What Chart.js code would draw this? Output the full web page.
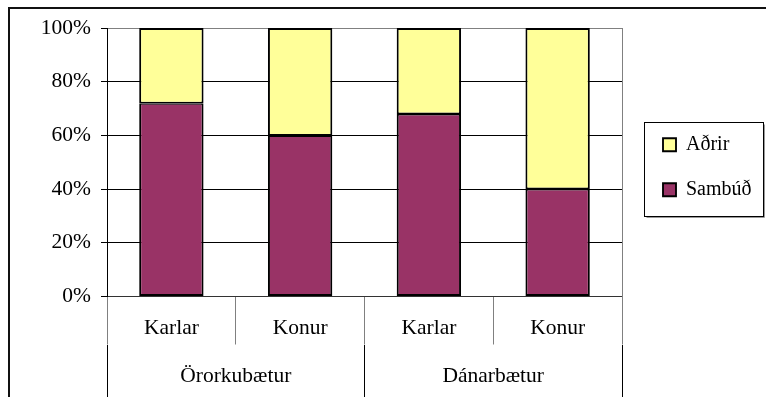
<!DOCTYPE html>
<html>
<head>
<meta charset="utf-8">
<script src="https://cdn.jsdelivr.net/npm/chart.js@4.4.1/dist/chart.umd.min.js"></script>
<style>
    html, body { margin: 0; padding: 0; background: #fff; overflow: hidden; }
    /* moldura da área do gráfico (cortada à direita e embaixo) */
    #moldura { position: absolute; left: 8px; top: 7px; width: 820px; height: 430px; border-top: 2px solid #111; border-left: 2px solid #111; }
    #grafico { position: absolute; left: 0; top: 0; }
</style>
</head>
<body>
<div id="moldura"></div>
<canvas id="grafico" width="766" height="397"></canvas>
<script>
// categorias do eixo X: sexo (nível de baixo) e tipo de benefício (nível de cima)
const subgrupos = ['Karlar', 'Konur', 'Karlar', 'Konur'];
const grupos = ['Örorkubætur', 'Dánarbætur'];

// percentuais por barra
const sambud = [72, 60, 68, 40];
const adrir = [28, 40, 32, 60];

const fonteEixo = { family: "'Liberation Serif', 'Times New Roman', serif", size: 21.5 };
const fonteLegenda = { family: "'Liberation Serif', 'Times New Roman', serif", size: 20 };

// * largura fixa para a legenda, assim a área do gráfico termina no mesmo lugar
const larguraLegenda = {
    id: 'larguraLegenda',
    beforeLayout(chart) {
        const lg = chart.legend;
        if (lg && !lg._larguraFixa) {
            const fitOriginal = lg.fit;
            lg.fit = function () { fitOriginal.call(this); this.width = 127; };
            lg._larguraFixa = true;
        }
    }
};

// > caixa em volta da legenda, com sombra cinza
const caixaLegenda = {
    id: 'caixaLegenda',
    afterDraw(chart) {
        const lg = chart.legend;
        const hb = lg.legendHitBoxes;
        const x0 = lg.left + 6.5;
        const x1 = lg.right - 1.5;
        const y0 = Math.round(Math.min(...hb.map(h => h.top)) - 13) + 0.5;
        const y1 = Math.round(Math.max(...hb.map(h => h.top + h.height)) + 16) + 0.5;
        const ctx = chart.ctx;
        ctx.save();
        ctx.strokeStyle = '#999';
        ctx.lineWidth = 1;
        ctx.beginPath();
        ctx.moveTo(x0 + 2, y1 + 1);
        ctx.lineTo(x1 + 1, y1 + 1);
        ctx.lineTo(x1 + 1, y0 + 2);
        ctx.stroke();
        ctx.strokeStyle = '#000';
        ctx.strokeRect(x0, y0, x1 - x0, y1 - y0);
        ctx.restore();
    }
};

var ctx = document.getElementById('grafico').getContext('2d');

var meuGrafico = new Chart(ctx, {
    type: 'bar',
    data: {
        labels: subgrupos,
        datasets: [{
            label: 'Sambúð',
            data: sambud,
            backgroundColor: '#993366',
            borderColor: '#000',
            borderWidth: { top: 1.5, left: 2, right: 2, bottom: 2 },
            borderSkipped: false
        }, {
            label: 'Aðrir',
            data: adrir,
            backgroundColor: '#FFFF99',
            borderColor: '#000',
            borderWidth: { top: 2, left: 2, right: 2, bottom: 1.5 },
            borderSkipped: false
        }]
    },
    options: {
        responsive: false,
        animation: false,
        layout: { padding: { top: 28, left: 0, right: 1, bottom: 0 } },
        datasets: { bar: { categoryPercentage: 1, barPercentage: 0.5 } },
        plugins: {
            tooltip: { enabled: false },
            legend: {
                position: 'right',
                fullSize: false,
                reverse: true,
                // título vazio só empurra os itens um pouco para baixo
                title: { display: true, text: '', padding: 0, font: { size: 10, lineHeight: 1 } },
                labels: { font: fonteLegenda, color: '#000', boxWidth: 13, boxHeight: 13, padding: 25 }
            }
        },
        scales: {
            x: {
                stacked: true,
                offset: true,
                grid: { offset: true, drawOnChartArea: false, tickLength: 48, color: '#808080' },
                border: { color: '#333', width: 1 },
                ticks: { font: fonteEixo, color: '#000', padding: -28.7, maxRotation: 0, autoSkip: false },
                afterFit(scale) { scale.height = 48; }
            },
            x2: {
                type: 'category',
                position: 'bottom',
                labels: grupos,
                offset: true,
                grid: { offset: true, drawOnChartArea: false, tickLength: 90, color: '#000' },
                border: { display: false },
                ticks: { font: fonteEixo, color: '#000', padding: -70.7, maxRotation: 0, autoSkip: false },
                afterFit(scale) { scale.height = 52.5; }
            },
            y: {
                stacked: true,
                min: 0,
                max: 100,
                ticks: {
                    stepSize: 20,
                    font: fonteEixo,
                    color: '#000',
                    padding: 10,
                    callback: v => v + '%'
                },
                grid: {
                    tickLength: 6,
                    tickColor: '#000',
                    color: c => (c.tick && c.tick.value === 100) ? '#808080' : '#000'
                },
                border: { color: '#000', width: 1 },
                afterFit(scale) { scale.width = 107; }
            },
            yR: {
                position: 'right',
                ticks: { display: false },
                grid: { display: false },
                border: { color: '#808080', width: 1 },
                afterFit(scale) { scale.width = 16; }
            }
        }
    },
    plugins: [larguraLegenda, caixaLegenda]
});
</script>
</body>
</html>
